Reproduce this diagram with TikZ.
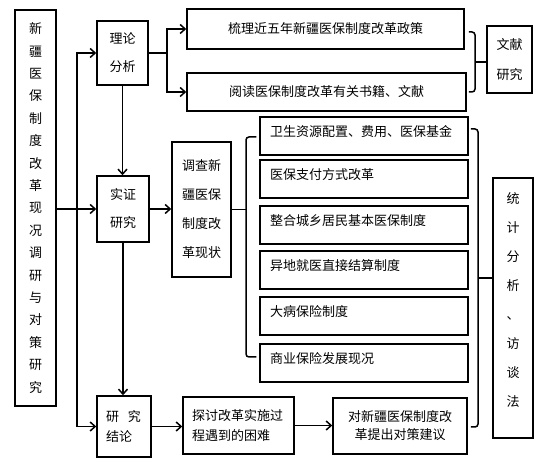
\documentclass[tikz,border=0pt]{standalone}
\usepackage{fontspec}
\newfontfamily\cjk{Noto Sans CJK SC}
\usetikzlibrary{arrows.meta,calc}
\tikzset{
  box/.style={draw,inner sep=0pt,align=center,font=\cjk\fontsize{13}{13}\selectfont},
  itembox/.style={draw,font=\cjk\fontsize{13}{16}\selectfont,text width=188pt,
    inner xsep=10pt,inner ysep=0pt,minimum height=38pt,align=left,
    text height=11pt,text depth=10pt},
  brk/.style={rounded corners=3pt}
}
\begin{document}
\begin{tikzpicture}[x=1pt,y=-1pt,line width=1.5pt,>={Straight Barb[length=5pt,width=9pt]}]
  \useasboundingbox (0,0) rectangle (552,462);
  \node[box,minimum width=41pt,minimum height=396pt,font=\cjk\fontsize{13}{22.4}\selectfont] (main) at (35.5,208)
    {新\\疆\\医\\保\\制\\度\\改\\革\\现\\况\\调\\研\\与\\对\\策\\研\\究};
  \node[box,minimum width=51pt,minimum height=64pt,font=\cjk\fontsize{13}{28}\selectfont] (lilun) at (122.5,53) {理论\\分析};
  \node[box,minimum width=52pt,minimum height=66pt,font=\cjk\fontsize{13}{28}\selectfont] (shizheng) at (123,209) {实证\\研究};
  \node[box,minimum width=54pt,minimum height=61pt,align=left,text width=36pt,inner xsep=9pt,font=\cjk\fontsize{13}{20}\selectfont] (jielun) at (124,426.5) {研\hspace{9pt}究\\结论};
  \node[box,minimum width=277pt,minimum height=40pt] (zc) at (325.5,29) {梳理近五年新疆医保制度改革政策};
  \node[box,minimum width=279pt,minimum height=38pt] (wx) at (326.5,92) {阅读医保制度改革有关书籍、文献};
  \node[box,minimum width=45pt,minimum height=67pt,font=\cjk\fontsize{13}{30}\selectfont] (wxyj) at (509.5,59.5) {文献\\研究};
  \node[box,minimum width=59pt,minimum height=135pt,font=\cjk\fontsize{13}{29}\selectfont] (dc) at (201.5,209.5) {调查新\\疆医保\\制度改\\革现状};
  \node[itembox] (s1) at (364,136) {卫生资源配置、费用、医保基金};
  \node[itembox] (s2) at (364,179) {医保支付方式改革};
  \node[itembox] (s3) at (364,225) {整合城乡居民基本医保制度};
  \node[itembox] (s4) at (364,270) {异地就医直接结算制度};
  \node[itembox] (s5) at (364,316) {大病保险制度};
  \node[itembox] (s6) at (364,363) {商业保险发展现况};
  \node[box,minimum width=111pt,minimum height=57pt,align=left,text width=93pt,inner xsep=9pt,font=\cjk\fontsize{13}{20}\selectfont] (tt) at (238.5,425.5) {探讨改革实施过\\程遇到的困难};
  \node[box,minimum width=134pt,minimum height=56pt,font=\cjk\fontsize{13}{18}\selectfont] (jy) at (400,426) {对新疆医保制度改\\革提出对策建议};
  \node[box,minimum width=40pt,minimum height=260pt,text depth=16pt,font=\cjk\fontsize{13}{29}\selectfont] (tj) at (513,308) {统\\计\\分\\析\\、\\访\\谈\\法};

  \coordinate (split) at (77,209);
  \coordinate (lb) at (167,53);
  \coordinate (wxb) at (475,62);
  \coordinate (db) at (246,209.5);
  \coordinate (tb) at (478,278);

  \draw[->] (main.east |- shizheng.west) -- (shizheng.west);
  \draw[->] (split) |- (lilun.west);
  \draw[->] (split) |- (jielun.west);
  \draw[->] (lilun.south) -- (lilun.south |- shizheng.north);
  \draw[->] (shizheng.south) -- (shizheng.south |- jielun.north);
  \draw (lilun.east) -- (lb);
  \draw[->] (lb) |- (zc.west);
  \draw[->] (lb) |- (wx.west);
  \draw[->] (shizheng.east) -- (dc.west |- shizheng.east);
  \draw[->] (jielun.east) -- (tt.west |- jielun.east);
  \draw[->] (tt.east) -- (jy.west |- tt.east);

  % brackets
  \draw[brk] ($(zc.east)+(4,3)$) -| (wxb) |- ($(wx.east)+(2,0)$);
  \draw (wxb) -- (wxb -| wxyj.west);
  \draw[brk] ($(s1.west)+(-3,1)$) -| (db) |- ($(s6.west)+(-3,-6)$);
  \draw (dc.east |- db) -- (db);
  \draw[brk] ($(s1.east)+(2,-7)$) -| (tb) |- ($(jy.east)+(3,1)$);
  \draw (tb) -- (tb -| tj.west);
\end{tikzpicture}
\end{document}
